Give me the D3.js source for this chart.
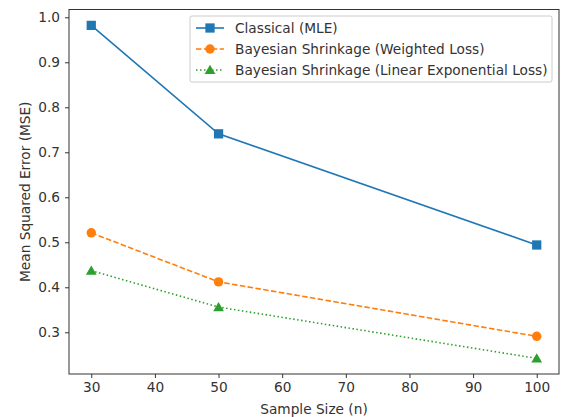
<!DOCTYPE html>
<html><head><meta charset="utf-8">
<script src="https://cdn.jsdelivr.net/npm/d3@7"></script>
<style>body{margin:0;background:#fff;} svg{display:block;font-family:"DejaVu Sans",sans-serif;}</style>
</head><body>
<svg id="c" width="561" height="417"></svg>
<script>
const sampleSizes = [30, 50, 100];
const classicalMLE = [0.982, 0.741, 0.494];
const bayesWeighted = [0.521, 0.412, 0.291];
const bayesLinex = [0.437, 0.356, 0.242];
const xTicks = [30, 40, 50, 60, 70, 80, 90, 100];
const yTicks = [0.3, 0.4, 0.5, 0.6, 0.7, 0.8, 0.9, 1.0];
const seriesNames = ["Classical (MLE)", "Bayesian Shrinkage (Weighted Loss)", "Bayesian Shrinkage (Linear Exponential Loss)"];
const seriesColors = ["#1f77b4", "#ff7f0e", "#2ca02c"];

const svg = d3.select("#c");
const L = 69, R = 559, T = 9.5, B = 374;
const x = d3.scaleLinear().domain([26.5, 103.5]).range([L, R]);
const y = d3.scaleLinear().domain([0.2073, 1.0173]).range([B, T]);

const fs = 13.7;
// axes
const xAxis = svg.append("g").attr("transform", `translate(0,${B})`)
  .call(d3.axisBottom(x).tickValues(xTicks).tickFormat(d3.format("d")).tickSize(4).tickPadding(4));
const yAxis = svg.append("g").attr("transform", `translate(${L},0)`)
  .call(d3.axisLeft(y).tickValues(yTicks).tickFormat(d3.format(".1f")).tickSize(4).tickPadding(5));
[xAxis, yAxis].forEach(g => {
  g.select(".domain").remove();
  g.selectAll("line").attr("stroke", "#333").attr("stroke-width", 1);
  g.selectAll("text").attr("fill", "#333").style("font-size", fs + "px").style("font-family", '"DejaVu Sans",sans-serif');
});
svg.append("rect").attr("x", L).attr("y", T).attr("width", R - L).attr("height", B - T)
  .attr("fill", "none").attr("stroke", "#333").attr("stroke-width", 1);

const series = [classicalMLE, bayesWeighted, bayesLinex];
const dashes = [null, "5.5,2.4", "1.5,2.5"];
const line = d3.line().x((d, i) => x(sampleSizes[i])).y(d => y(d));
const sq = d3.symbol().type(d3.symbolSquare).size(86);
const ci = d3.symbol().type(d3.symbolCircle).size(70);
const tr = d3.symbol().type(d3.symbolTriangle).size(50);
const syms = [sq, ci, tr];

series.forEach((s, k) => {
  svg.append("path").datum(s).attr("d", line).attr("fill", "none")
    .attr("stroke", seriesColors[k]).attr("stroke-width", 1.6)
    .attr("stroke-dasharray", dashes[k]);
  svg.selectAll(null).data(s).enter().append("path")
    .attr("d", syms[k]())
    .attr("transform", (d, i) => `translate(${x(sampleSizes[i])},${y(d) + (k === 2 ? 1 : 0)})`)
    .attr("fill", seriesColors[k]);
});

// labels
svg.append("text").attr("x", (L + R) / 2).attr("y", 414).attr("text-anchor", "middle")
  .style("font-size", fs + "px").attr("fill", "#333").text("Sample Size (n)");
svg.append("text").attr("transform", `translate(30,${(T + B) / 2}) rotate(-90)`).attr("text-anchor", "middle")
  .style("font-size", fs + "px").attr("fill", "#333").text("Mean Squared Error (MSE)");

// legend
const lg = svg.append("g");
lg.append("rect").attr("x", 190).attr("y", 16).attr("width", 362).attr("height", 66).attr("rx", 2)
  .attr("fill", "#fff").attr("fill-opacity", 0.8).attr("stroke", "#ccc").attr("stroke-width", 1);
const rowsY = [28, 49, 70];
seriesNames.forEach((n, k) => {
  lg.append("line").attr("x1", 196).attr("x2", 224).attr("y1", rowsY[k]).attr("y2", rowsY[k])
    .attr("stroke", seriesColors[k]).attr("stroke-width", 1.6).attr("stroke-dasharray", dashes[k]);
  lg.append("path").attr("d", syms[k]()).attr("transform", `translate(210,${rowsY[k] + (k === 2 ? 1 : 0)})`).attr("fill", seriesColors[k]);
  lg.append("text").attr("x", 235).attr("y", rowsY[k]).attr("dy", "0.35em")
    .style("font-size", fs + "px").attr("fill", "#333").text(n);
});
</script>
</body></html>
